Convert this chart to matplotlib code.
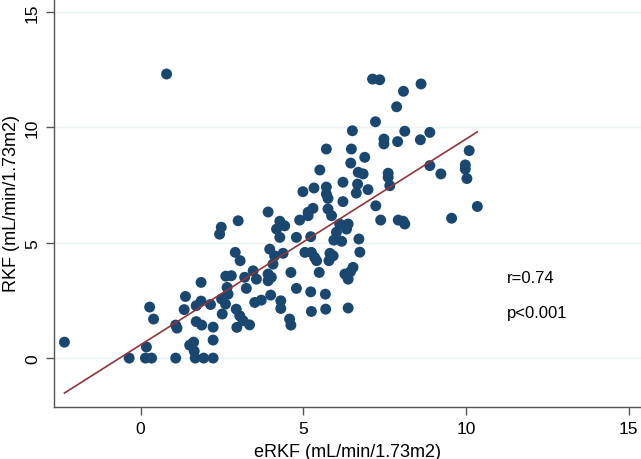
import numpy as np
import matplotlib
matplotlib.use("Agg")
import matplotlib.pyplot as plt

plt.rcParams['font.family'] = ['Liberation Sans', 'DejaVu Sans']

# ======================
# DATA
# ======================
erkf = [
    -2.34, 0.80, -0.35, 0.15, 0.34, 0.18, 0.28, 0.40, 1.08, 1.08,
    1.12, 1.38, 1.34, 1.86, 1.71, 1.86, 2.15, 1.71, 1.88, 2.23,
    2.23, 1.51, 1.63, 1.65, 1.68, 1.94, 2.23, 2.48, 2.43, 3.00,
    2.91, 3.06, 2.62, 2.79, 2.66, 2.69, 2.49, 2.61, 2.51, 2.94,
    3.05, 2.96, 3.15, 3.35, 3.20, 3.46, 3.56, 3.25, 3.97, 4.12,
    4.07, 4.38, 3.92, 4.02, 3.92, 4.62, 5.05, 5.25, 5.35, 5.41,
    5.82, 5.79, 5.92, 5.49, 6.53, 6.28, 6.38, 6.74, 4.79, 5.23,
    5.68, 4.00, 3.51, 3.71, 4.31, 4.31, 4.58, 4.62, 5.25, 5.69,
    6.38, 3.92, 4.28, 4.43, 4.18, 4.28, 4.89, 5.15, 4.79, 5.23,
    5.87, 6.12, 6.38, 6.33, 6.02, 5.94, 6.18, 6.71, 5.71, 6.48,
    6.46, 5.51, 4.99, 5.33, 5.71, 5.71, 5.76, 6.22, 6.22, 5.76,
    5.15, 5.30, 6.51, 6.69, 6.84, 6.67, 6.63, 7.13, 7.35, 8.62,
    8.08, 7.87, 7.22, 8.12, 8.89, 7.48, 7.48, 7.90, 8.60, 6.89,
    10.10, 9.98, 9.98, 10.03, 8.89, 9.23, 7.61, 7.61, 7.66, 6.99,
    7.23, 10.35, 7.38, 7.92, 8.07, 8.12, 9.56, 6.45,
]
rkf = [
    0.69, 12.31, 0.00, 0.00, 0.00, 0.48, 2.21, 1.69, 0.00, 1.43,
    1.30, 2.67, 2.10, 3.28, 2.27, 2.47, 2.32, 1.58, 1.43, 1.34,
    0.78, 0.56, 0.69, 0.30, 0.00, 0.00, 0.00, 5.67, 5.37, 5.95,
    4.58, 4.22, 3.55, 3.57, 3.06, 2.77, 2.56, 2.34, 1.91, 2.12,
    1.83, 1.33, 1.62, 1.44, 3.50, 3.78, 3.42, 3.02, 4.72, 4.43,
    4.07, 4.54, 3.64, 3.50, 3.35, 3.71, 4.58, 4.58, 4.36, 4.22,
    4.54, 4.22, 4.43, 3.71, 3.93, 3.64, 3.42, 4.59, 3.02, 2.87,
    2.77, 2.73, 2.41, 2.51, 2.48, 2.15, 1.69, 1.43, 2.02, 2.12,
    2.17, 6.33, 5.93, 5.73, 5.59, 5.23, 5.98, 6.17, 5.23, 5.26,
    6.17, 5.81, 5.81, 5.59, 5.45, 5.11, 5.06, 5.16, 9.06, 9.06,
    8.45, 8.15, 7.21, 7.37, 7.41, 7.11, 6.92, 7.62, 6.78, 6.46,
    6.32, 6.49, 9.85, 8.05, 7.98, 7.54, 7.15, 12.09, 12.06, 11.88,
    11.56, 10.89, 10.24, 9.83, 9.78, 9.49, 9.28, 9.38, 9.46, 8.70,
    8.99, 8.37, 8.19, 7.78, 8.34, 7.98, 8.01, 7.83, 7.47, 7.30,
    6.60, 6.57, 5.98, 5.98, 5.93, 5.81, 6.06, 3.74,
]

r_text = "r=0.74"
p_text = "p<0.001"
ticks = [0, 5, 10, 15]

x = np.array(erkf)
y = np.array(rkf)

# linear fit through the scatter
slope, intercept = np.polyfit(x, y, 1)
x_fit = np.array([x.min(), x.max()])
y_fit = slope * x_fit + intercept

# ======================
# PLOT
# ======================
fig = plt.figure(figsize=(6.41, 4.60), dpi=100)
ax = fig.add_axes([54 / 641, 52 / 460, 587 / 641, 408 / 460])

for t in ticks:
    ax.axhline(t, color="#eaf2f3", linewidth=1.0, zorder=0)

ax.scatter(x, y, s=62, color="#1a476f", edgecolors="none", zorder=2)
ax.plot(x_fit, y_fit, color="#90353b", linewidth=1.2, zorder=3)

ax.text(11.26, 3.51, r_text, fontsize=12, ha="left", va="center")
ax.text(11.26, 1.99, p_text, fontsize=12, ha="left", va="center")

ax.set_xlim(-2.66, 15.38)
ax.set_ylim(-2.12, 15.56)
ax.set_xticks(ticks)
ax.set_yticks(ticks)
ax.set_yticklabels([str(t) for t in ticks], rotation=90, va="center")
ax.tick_params(axis="both", direction="out", length=6, width=1,
               color="#555555", labelsize=12.5, pad=4)

ax.set_xlabel("eRKF (mL/min/1.73m2)", fontsize=13, labelpad=5)
ax.set_ylabel("RKF (mL/min/1.73m2)", fontsize=13, labelpad=4)

for side in ["top", "right"]:
    ax.spines[side].set_visible(False)
for side in ["left", "bottom"]:
    ax.spines[side].set_color("#555555")
    ax.spines[side].set_linewidth(1.0)

fig.savefig("out.png", dpi=100)
plt.close(fig)
